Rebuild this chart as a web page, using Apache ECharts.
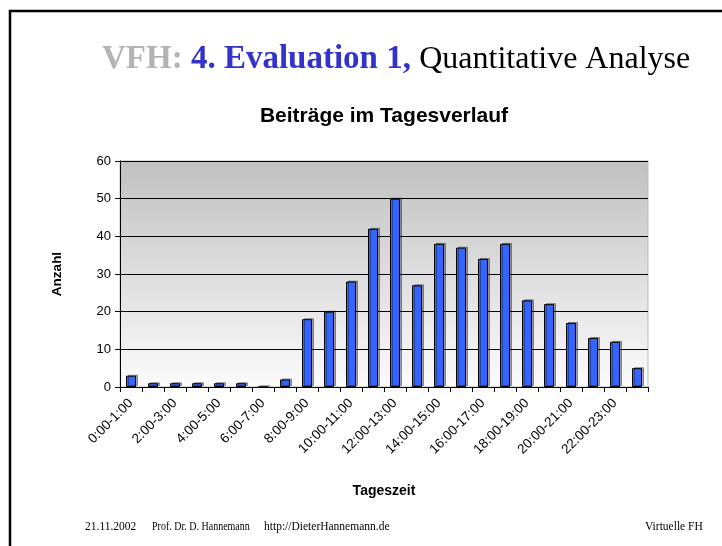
<!DOCTYPE html>
<html>
<head>
<meta charset="utf-8">
<title>Beiträge im Tagesverlauf</title>
<script src="https://cdn.jsdelivr.net/npm/echarts@6/dist/echarts.min.js"></script>
<style>
  html, body { margin: 0; padding: 0; background: #fff; }
  #chart { width: 722px; height: 546px; }
</style>
</head>
<body>
<div id="chart"></div>
<script>
// Stunden-Kategorien (jede zweite wird beschriftet)
const hours = [
  '0:00-1:00', '1:00-2:00', '2:00-3:00', '3:00-4:00', '4:00-5:00', '5:00-6:00',
  '6:00-7:00', '7:00-8:00', '8:00-9:00', '9:00-10:00', '10:00-11:00', '11:00-12:00',
  '12:00-13:00', '13:00-14:00', '14:00-15:00', '15:00-16:00', '16:00-17:00', '17:00-18:00',
  '18:00-19:00', '19:00-20:00', '20:00-21:00', '21:00-22:00', '22:00-23:00', '23:00-24:00'
]
// Anzahl Beiträge pro Stunde
const posts = [3, 1, 1, 1, 1, 1, 0, 2, 18, 20, 28, 42, 50, 27, 38, 37, 34, 38, 23, 22, 17, 13, 12, 5]
const yTicks = [0, 10, 20, 30, 40, 50, 60]

const footer = ['21.11.2002', 'Prof. Dr. D. Hannemann', 'http://DieterHannemann.de', 'Virtuelle FH']

const chart = echarts.init(document.getElementById('chart'))

const footText = (x, text, sx) => ({
  type: 'text', x: x, y: 527, scaleX: sx || 1,
  style: { text: text, fontFamily: 'Liberation Serif', fontSize: 11.5, fill: '#000', verticalAlign: 'middle' }
})

const option = {
  animation: false,
  graphic: [
    // Folienrahmen
    {
      type: 'polyline',
      shape: { points: [[10, 546], [10, 11], [722, 11]] },
      style: { stroke: '#000', lineWidth: 2.5, fill: null }
    },
    // Folientitel
    {
      type: 'text',
      left: 102,
      top: 43,
      style: {
        text: '{a|VFH: }{b|4. Evaluation 1, }{c|Quantitative Analyse}',
        rich: {
          a: { fontFamily: 'Liberation Serif', fontWeight: 'bold', fontSize: 33, fill: '#b3b3b3' },
          b: {
            fontFamily: 'Liberation Serif', fontWeight: 'bold', fontSize: 33, fill: '#3333cc',
            textShadowColor: 'rgba(0,0,0,0.3)', textShadowOffsetX: 2, textShadowOffsetY: 2
          },
          c: { fontFamily: 'Liberation Serif', fontSize: 32, fill: '#000' }
        }
      }
    },
    // Diagrammtitel
    {
      type: 'text',
      x: 384,
      y: 116,
      style: {
        text: 'Beiträge im Tagesverlauf',
        fontFamily: 'Liberation Sans, Arial', fontWeight: 'bold', fontSize: 21,
        fill: '#000', align: 'center', verticalAlign: 'middle'
      }
    },
    // Fußzeile
    footText(85, footer[0]),
    footText(152, footer[1], 0.87),
    footText(264, footer[2]),
    footText(645, footer[3])
  ],
  grid: {
    left: 120,
    right: 74,
    top: 161,
    bottom: 159,
    show: true,
    borderColor: '#b8b8b8',
    borderWidth: 1,
    backgroundColor: new echarts.graphic.LinearGradient(0, 0, 0, 1, [
      { offset: 0, color: '#c0c0c0' },
      { offset: 1, color: '#fbfbfb' }
    ])
  },
  xAxis: {
    type: 'category',
    data: hours,
    name: 'Tageszeit',
    nameLocation: 'middle',
    nameGap: 97,
    nameTextStyle: { fontFamily: 'Liberation Sans, Arial', fontWeight: 'bold', fontSize: 14, color: '#000' },
    axisLine: { lineStyle: { color: '#000', width: 1 } },
    axisTick: { show: true, interval: 0, length: 5, lineStyle: { color: '#000' } },
    axisLabel: {
      interval: 1,
      rotate: 45,
      margin: 14,
      fontFamily: 'Liberation Sans, Arial',
      fontSize: 13.5,
      color: '#000'
    }
  },
  yAxis: {
    type: 'value',
    min: yTicks[0],
    max: yTicks[yTicks.length - 1],
    interval: 10,
    name: 'Anzahl',
    nameLocation: 'middle',
    nameGap: 56,
    nameRotate: 90,
    nameTextStyle: { fontFamily: 'Liberation Sans, Arial', fontWeight: 'bold', fontSize: 13.5, color: '#000' },
    axisLine: { show: true, lineStyle: { color: '#000', width: 1 } },
    axisTick: { show: true, length: 5, lineStyle: { color: '#000' } },
    axisLabel: { fontFamily: 'Liberation Sans, Arial', fontSize: 13, color: '#000', margin: 9 },
    splitLine: { show: true, lineStyle: { color: '#000', width: 1 } }
  },
  series: [{
    type: 'bar',
    data: posts,
    barWidth: 10,
    itemStyle: {
      color: '#3366ff',
      borderColor: '#000',
      borderWidth: 1,
      shadowColor: 'rgba(0,0,0,0.35)',
      shadowOffsetX: 2,
      shadowOffsetY: -1,
      shadowBlur: 0
    }
  }]
}

chart.setOption(option)
</script>
</body>
</html>
